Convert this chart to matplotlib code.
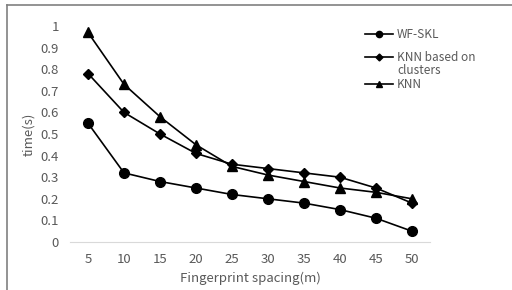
import matplotlib
matplotlib.use('Agg')
import matplotlib.pyplot as plt
from matplotlib.lines import Line2D

plt.rcParams['font.family'] = ['Noto Sans CJK SC', 'DejaVu Sans']

spacing = ['5', '10', '15', '20', '25', '30', '35', '40', '45', '50']
wf_skl = [0.55, 0.32, 0.28, 0.25, 0.22, 0.20, 0.18, 0.15, 0.11, 0.05]
knn_clusters = [0.78, 0.60, 0.50, 0.41, 0.36, 0.34, 0.32, 0.30, 0.25, 0.18]
knn = [0.97, 0.73, 0.58, 0.45, 0.35, 0.31, 0.28, 0.25, 0.23, 0.20]
y_ticks = [0, 0.1, 0.2, 0.3, 0.4, 0.5, 0.6, 0.7, 0.8, 0.9, 1]
y_labels = ['0', '0.1', '0.2', '0.3', '0.4', '0.5', '0.6', '0.7', '0.8', '0.9', '1']

text_color = '#595959'

fig = plt.figure(figsize=(5.12, 2.9), dpi=100)
ax = fig.add_axes([70 / 512, 1 - 242 / 290, 360 / 512, 216 / 290])

x = list(range(len(spacing)))
series = [
    ('WF-SKL', wf_skl, 'o', 7),
    ('KNN based on clusters', knn_clusters, 'D', 5.5),
    ('KNN', knn, '^', 7.5),
]
for label, vals, marker, ms in series:
    ax.plot(x, vals, color='black', linewidth=1.2, marker=marker, markersize=ms)

ax.set_xlim(-0.5, len(spacing) - 0.5)
ax.set_ylim(0, 1)
ax.set_xticks(x)
ax.set_xticklabels(spacing)
ax.set_yticks(y_ticks)
ax.set_yticklabels(y_labels)
ax.tick_params(length=0, labelsize=9.5, colors=text_color, pad=8)
for side in ['top', 'right', 'left']:
    ax.spines[side].set_visible(False)
ax.spines['bottom'].set_color('#d9d9d9')
ax.set_xlabel('Fingerprint spacing(m)', fontsize=9.5, color=text_color, labelpad=4)
ax.set_ylabel('time(s)', fontsize=9.5, color=text_color, labelpad=4)

# legend drawn by hand to mimic the spreadsheet layout
leg_rows = [(34, 'o', 4.5, 'WF-SKL'), (57, 'D', 3.5, 'KNN based on'), (84, '^', 5, 'KNN')]
for y, marker, ms, label in leg_rows:
    fy = 1 - y / 290
    fig.add_artist(Line2D([365 / 512, 393 / 512], [fy, fy], color='black', linewidth=1.2,
                          transform=fig.transFigure))
    fig.add_artist(Line2D([379 / 512], [fy], color='black', marker=marker, markersize=ms,
                          transform=fig.transFigure))
    fig.text(397 / 512, fy, label, fontsize=8.5, color=text_color, va='center', ha='left')
fig.text(397 / 512, 1 - 71 / 290, 'clusters', fontsize=8.5, color=text_color, va='center', ha='left')

# outer frame (top and left edges visible)
fig.add_artist(Line2D([7 / 512, 7 / 512], [0, 1 - 5 / 290], color='#808080', linewidth=1.2,
                      transform=fig.transFigure))
fig.add_artist(Line2D([7 / 512, 1], [1 - 5 / 290, 1 - 5 / 290], color='#808080', linewidth=1.2,
                      transform=fig.transFigure))

fig.savefig('out.png', dpi=100)
